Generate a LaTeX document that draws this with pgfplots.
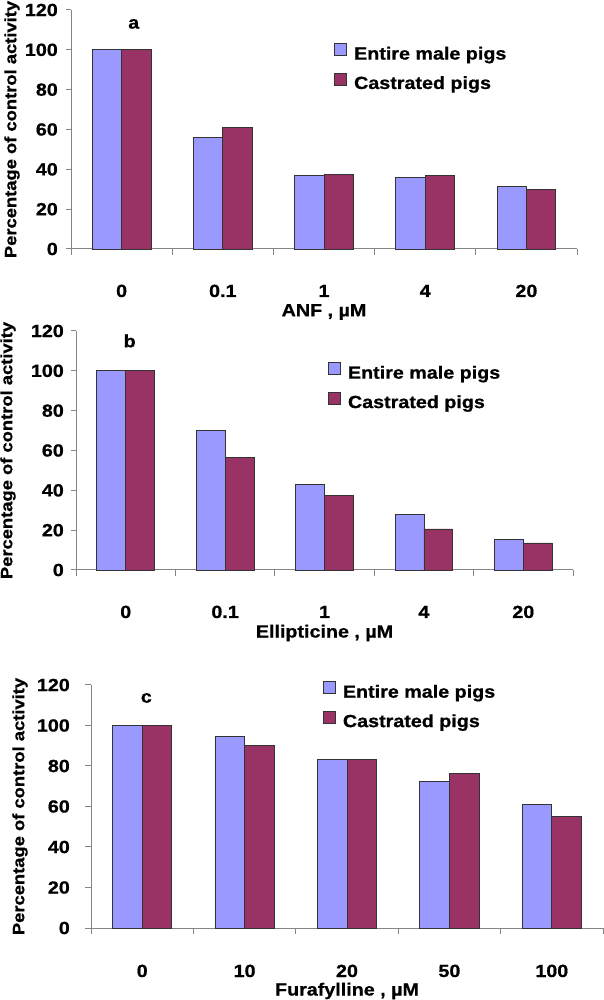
\documentclass[border=0pt]{standalone}
\usepackage{fontspec}
\setmainfont{Liberation Sans}[FakeStretch=1.12, BoldFeatures={FakeBold=0.8}]
\usepackage{pgfplots}
\pgfplotsset{compat=1.18}
\definecolor{entire}{HTML}{9999FF}
\definecolor{castr}{HTML}{993366}
\definecolor{axgray}{HTML}{858585}
\definecolor{barline}{HTML}{333333}
\newcommand\lf{\fontsize{17.6bp}{20bp}\selectfont\bfseries}
\newcommand\ylf{\fontsize{16.4bp}{19bp}\selectfont\bfseries}
\pgfplotsset{
  pig/.style={
    scale only axis, anchor=south west,
    xmin=-0.5, xmax=4.5, ymin=0, ymax=120,
    axis lines*=left,
    axis line style={draw=axgray, line width=1bp},
    ytick={0,20,...,120},
    xtick={0,1,2,3,4},
    minor xtick={-0.5,0.5,1.5,2.5,3.5,4.5},
    tick align=outside,
    major tick length=5bp, minor tick length=6bp,
    every tick/.style={draw=axgray, line width=1bp},
    major x tick style={draw=none},
    /pgf/number format/assume math mode=true,
    yticklabel style={font=\lf, anchor=east, inner sep=0pt},
    xticklabel style={font=\lf, anchor=base, inner sep=0pt, yshift=-43bp},
    every axis x label/.style={at={(rel axis cs:0.5,0)}, anchor=center, yshift=-63bp, font=\lf},
    ybar=0pt, bar width=0.29,
    legend image code/.code={\draw[##1] (0bp,0bp) rectangle (12bp,12bp); \path (19bp,0bp);},
    legend style={draw=none, fill=none, inner sep=0pt, anchor=north west,
       nodes={inner sep=0pt, text height=12bp, text depth=4bp, font=\lf},
       row sep=9bp, column sep=0pt},
    legend cell align=left,
    clip=false,
  },
  entire/.style={fill=entire, draw=barline, line width=0.8bp},
  castr/.style={fill=castr, draw=barline, line width=0.8bp},
}
\pgfplotstableread{
x entire castr
0 100 100
1 56.2 61.0
2 37.0 37.5
3 35.7 37.0
4 31.3 29.8
}\dataA
\pgfplotstableread{
x entire castr
0 100 100
1 70.2 56.3
2 42.9 37.4
3 28.0 20.6
4 15.4 13.6
}\dataB
\pgfplotstableread{
x entire castr
0 100 100
1 94.4 90.0
2 83.4 83.4
3 72.4 76.5
4 61.1 55.2
}\dataC
\begin{document}
\begin{tikzpicture}
\path[use as bounding box] (0bp,0bp) rectangle (604bp,1000bp);
% panel a
\begin{axis}[pig, at={(71bp,751bp)}, width=506bp, height=239bp,
  xticklabels={0,0.1,1,4,20},
  yticklabel style={xshift=-8bp},
  every axis y label/.style={at={(rel axis cs:0,0.5)}, xshift=-59bp, rotate=90, anchor=center, font=\ylf},
  xlabel={ANF , µM}, ylabel={Percentage of control activity},
  legend style={at={(0.520,0.862)}}]
\addplot[entire] table[x=x,y=entire] {\dataA};
\addplot[castr] table[x=x,y=castr] {\dataA};
\legend{Entire male pigs, Castrated pigs}
\node[font=\lf] at (axis cs:0.12,113) {a};
\end{axis}
% panel b
\begin{axis}[pig, at={(76bp,430bp)}, width=497bp, height=239bp,
  xticklabels={0,0.1,1,4,20},
  yticklabel style={xshift=-7bp},
  every axis y label/.style={at={(rel axis cs:0,0.5)}, xshift=-68bp, rotate=90, anchor=center, font=\ylf},
  xlabel={Ellipticine , µM}, ylabel={Percentage of control activity},
  legend style={at={(0.507,0.870)}}]
\addplot[entire] table[x=x,y=entire] {\dataB};
\addplot[castr] table[x=x,y=castr] {\dataB};
\legend{Entire male pigs, Castrated pigs}
\node[font=\lf] at (axis cs:0.04,115) {b};
\end{axis}
% panel c
\begin{axis}[pig, at={(91bp,72bp)}, width=512bp, height=243bp,
  xticklabels={0,10,20,50,100},
  yticklabel style={xshift=-15bp},
  major tick length=6bp,
  every axis y label/.style={at={(rel axis cs:0,0.5)}, xshift=-71bp, rotate=90, anchor=center, font=\ylf},
  xlabel={Furafylline , µM}, ylabel={Percentage of control activity},
  legend style={at={(0.453,1.016)}}]
\addplot[entire] table[x=x,y=entire] {\dataC};
\addplot[castr] table[x=x,y=castr] {\dataC};
\legend{Entire male pigs, Castrated pigs}
\node[font=\lf] at (axis cs:0.04,113.6) {c};
\end{axis}
\end{tikzpicture}
\end{document}
